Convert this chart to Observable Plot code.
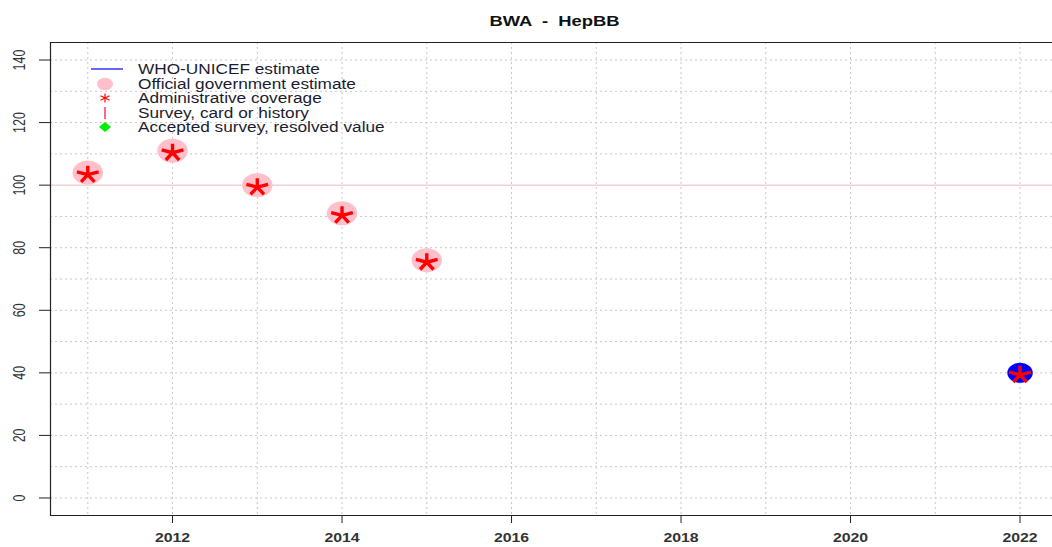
<!DOCTYPE html>
<html><head><meta charset="utf-8">
<script src="https://cdn.jsdelivr.net/npm/d3@7"></script>
<script src="https://cdn.jsdelivr.net/npm/@observablehq/plot@0.6"></script>
<style>
body{margin:0;background:#fff;font-family:"Liberation Sans",Arial,sans-serif;}
#wrap{position:relative;width:1052px;height:547px;overflow:hidden;}
#legend{position:absolute;left:88px;top:62px;font-size:14px;color:#1c1c30;}
#legend .row{height:14.5px;display:flex;align-items:center;white-space:nowrap;}
#legend svg{width:36px;height:14px;margin-right:14px;overflow:visible;}
#legend span{display:inline-block;transform:scaleX(1.23);transform-origin:0 50%;}
</style></head>
<body><div id="wrap"><div id="chart"></div><div id="legend"></div></div>
<script>
const title = "BWA  -  HepBB";
const years = [2011,2012,2013,2014,2015,2016,2017,2018,2019,2020,2021,2022];
const xTickYears = [2012,2014,2016,2018,2020,2022];
const yTicks = [0,20,40,60,80,100,120,140];
const yGrid = [0,10,20,30,40,50,60,70,80,90,110,120,130,140];
const govYears = [2011,2012,2013,2014,2015];
const govValues = [104,111,100,91,76];
const adminYears = [2011,2012,2013,2014,2015,2022];
const adminValues = [104,111,100,91,76,40];
const wuenicYears = [2022];
const wuenicValues = [40];
const legendLabels = ["WHO-UNICEF estimate","Official government estimate","Administrative coverage","Survey, card or history","Accepted survey, resolved value"];

const gov = govYears.map((y,i)=>({year:y, value:govValues[i]}));
const admin = adminYears.map((y,i)=>({year:y, value:adminValues[i]}));
const wuenic = wuenicYears.map((y,i)=>({year:y, value:wuenicValues[i]}));

const K = 1.27; // horizontal stretch of the reference rendering
const ellipse = {draw(ctx, size){
  const r = Math.sqrt(size/Math.PI), n = 48;
  for (let i=0;i<=n;i++){const a=2*Math.PI*i/n; const px=Math.cos(a)*r*K, py=Math.sin(a)*r; i?ctx.lineTo(px,py):ctx.moveTo(px,py);}
  ctx.closePath();
}};
const star = {draw(ctx, size){
  const r = Math.sqrt(size/Math.PI);
  for (let i=0;i<5;i++){
    const a = 2*Math.PI*i/5;
    ctx.moveTo(0,0); ctx.lineTo(Math.sin(a)*r*K, -Math.cos(a)*r);
  }
}};

const xMin = 2010.56, xMax = 2022.383, yMin = -5.6, yMax = 145.6;
const grid = {stroke:"#c8c8c8", strokeDasharray:"2,3", strokeWidth:1};

const chart = Plot.plot({
  width:1052, height:547,
  marginLeft:50, marginRight:0, marginTop:42, marginBottom:32,
  style:{fontFamily:"'Liberation Sans', Arial, sans-serif", background:"#fff", color:"#222"},
  x:{domain:[xMin,xMax], axis:null},
  y:{domain:[yMin,yMax], axis:null},
  marks:[
    Plot.ruleX(years, {...grid}),
    Plot.ruleY(yGrid, {...grid}),
    Plot.ruleY([100], {stroke:"#f2b8c0", strokeWidth:1}),
    Plot.ruleX([xMin], {stroke:"#222", strokeWidth:1.2}),
    Plot.ruleY([yMin, yMax], {stroke:"#222", strokeWidth:1.2}),
    Plot.axisX(xTickYears, {tickSize:8, tickPadding:10, tickFormat:d=>String(d), label:null, fontSize:12.5, fontWeight:"bold", stroke:"#222", fill:"#333"}),
    Plot.axisY(yTicks, {tickSize:11, tickRotate:-90, tickPadding:15, label:null, fontSize:12.5, stroke:"#222", fill:"#333"}),
    Plot.dot(gov, {x:"year", y:"value", r:12, symbol:ellipse, fill:"#ffc0cb", stroke:null}),
    Plot.dot(wuenic, {x:"year", y:"value", r:10, symbol:ellipse, fill:"#0000ff", stroke:null}),
    Plot.dot(admin, {x:"year", y:"value", symbol:star, r:9, dy:2, fill:"none", stroke:"#ff0000", strokeWidth:3.4, strokeLinecap:"butt"}),
    Plot.text([title], {frameAnchor:"top", dx:3, dy:-27, fontSize:14.5, fontWeight:"bold", fill:"#111"})
  ]
});
document.getElementById("chart").appendChild(chart);
chart.querySelectorAll("text").forEach(t => {
  const tr = t.getAttribute("transform");
  const m = tr && tr.match(/^translate\(([^)]*)\)(.*)$/);
  if (m) t.setAttribute("transform", `translate(${m[1]}) scale(${K},1)${m[2]}`);
});

const symbols = [
  '<line x1="3" y1="7" x2="35" y2="7" stroke="#0000ff" stroke-width="1.2"/>',
  '<ellipse cx="17" cy="7" rx="8" ry="6.3" fill="#ffc0cb"/>',
  '<g stroke="#ff0000" stroke-width="1.2"><line x1="17" y1="2.5" x2="17" y2="11.5"/><line x1="12.5" y1="4.7" x2="21.5" y2="9.3"/><line x1="12.5" y1="9.3" x2="21.5" y2="4.7"/></g>',
  '<line x1="17" y1="1" x2="17" y2="13" stroke="#ff3366" stroke-width="1.5"/>',
  '<polygon points="17,2 23,7 17,12 11,7" fill="#00ee00"/>'
];
const leg = document.getElementById("legend");
legendLabels.forEach((lab,i)=>{
  const row = document.createElement("div");
  row.className="row";
  row.innerHTML = `<svg viewBox="0 0 36 14">${symbols[i]}</svg><span>${lab}</span>`;
  leg.appendChild(row);
});
</script></body></html>
